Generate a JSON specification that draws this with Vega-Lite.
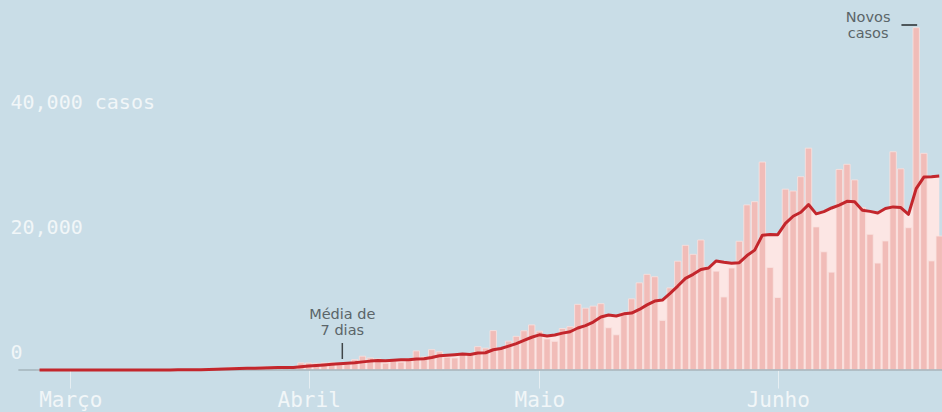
{
  "$schema": "https://vega.github.io/schema/vega-lite/v6.json",
  "width": 942,
  "height": 412,
  "autosize": "none",
  "padding": 0,
  "background": "#c9dde7",
  "config": {"view": {"stroke": null}},
  "datasets": {
    "casos": [
    {"d":"2020-02-26","c":1,"m":0.1},{"d":"2020-02-27","c":0,"m":0.1},{"d":"2020-02-28","c":0,"m":0.1},{"d":"2020-02-29","c":1,"m":0.3},
    {"d":"2020-03-01","c":0,"m":0.3},{"d":"2020-03-02","c":0,"m":0.3},{"d":"2020-03-03","c":0,"m":0.3},{"d":"2020-03-04","c":1,"m":0.3},
    {"d":"2020-03-05","c":5,"m":1},{"d":"2020-03-06","c":5,"m":1.7},{"d":"2020-03-07","c":6,"m":2.4},{"d":"2020-03-08","c":6,"m":3.3},
    {"d":"2020-03-09","c":0,"m":3.3},{"d":"2020-03-10","c":9,"m":4.6},{"d":"2020-03-11","c":18,"m":7},{"d":"2020-03-12","c":25,"m":9.9},
    {"d":"2020-03-13","c":21,"m":12.1},{"d":"2020-03-14","c":23,"m":14.6},{"d":"2020-03-15","c":79,"m":25},{"d":"2020-03-16","c":34,"m":29.9},
    {"d":"2020-03-17","c":57,"m":36.7},{"d":"2020-03-18","c":137,"m":53.7},{"d":"2020-03-19","c":193,"m":77.7},{"d":"2020-03-20","c":283,"m":115},
    {"d":"2020-03-21","c":224,"m":144},{"d":"2020-03-22","c":418,"m":192},{"d":"2020-03-23","c":345,"m":237},{"d":"2020-03-24","c":310,"m":273},
    {"d":"2020-03-25","c":232,"m":286},{"d":"2020-03-26","c":482,"m":328},{"d":"2020-03-27","c":502,"m":359},{"d":"2020-03-28","c":487,"m":397},
    {"d":"2020-03-29","c":352,"m":387},{"d":"2020-03-30","c":323,"m":384},{"d":"2020-03-31","c":1138,"m":502},
    {"d":"2020-04-01","c":1119,"m":629},{"d":"2020-04-02","c":1074,"m":714},{"d":"2020-04-03","c":1146,"m":806},{"d":"2020-04-04","c":1222,"m":911},
    {"d":"2020-04-05","c":852,"m":982},{"d":"2020-04-06","c":926,"m":1068},{"d":"2020-04-07","c":1661,"m":1143},{"d":"2020-04-08","c":2210,"m":1299},
    {"d":"2020-04-09","c":1930,"m":1421},{"d":"2020-04-10","c":1781,"m":1512},{"d":"2020-04-11","c":1089,"m":1493},{"d":"2020-04-12","c":1442,"m":1577},
    {"d":"2020-04-13","c":1261,"m":1625},{"d":"2020-04-14","c":1832,"m":1649},{"d":"2020-04-15","c":3058,"m":1770},{"d":"2020-04-16","c":2105,"m":1795},
    {"d":"2020-04-17","c":3257,"m":2006},{"d":"2020-04-18","c":2917,"m":2267},{"d":"2020-04-19","c":2055,"m":2355},{"d":"2020-04-20","c":1927,"m":2450},
    {"d":"2020-04-21","c":2498,"m":2545},{"d":"2020-04-22","c":2678,"m":2491},{"d":"2020-04-23","c":3735,"m":2724},{"d":"2020-04-24","c":3503,"m":2759},
    {"d":"2020-04-25","c":6300,"m":3243},{"d":"2020-04-26","c":3379,"m":3432},{"d":"2020-04-27","c":4613,"m":3816},{"d":"2020-04-28","c":5385,"m":4228},
    {"d":"2020-04-29","c":6276,"m":4742},{"d":"2020-04-30","c":7218,"m":5240},
    {"d":"2020-05-01","c":6209,"m":5626},{"d":"2020-05-02","c":4970,"m":5436},{"d":"2020-05-03","c":4588,"m":5608},{"d":"2020-05-04","c":6633,"m":5897},
    {"d":"2020-05-05","c":6935,"m":6118},{"d":"2020-05-06","c":10503,"m":6722},{"d":"2020-05-07","c":9888,"m":7104},{"d":"2020-05-08","c":10222,"m":7677},
    {"d":"2020-05-09","c":10611,"m":8483},{"d":"2020-05-10","c":6760,"m":8793},{"d":"2020-05-11","c":5632,"m":8650},{"d":"2020-05-12","c":9258,"m":8982},
    {"d":"2020-05-13","c":11385,"m":9108},{"d":"2020-05-14","c":13944,"m":9687},{"d":"2020-05-15","c":15305,"m":10414},{"d":"2020-05-16","c":14919,"m":11029},
    {"d":"2020-05-17","c":7938,"m":11197},{"d":"2020-05-18","c":13140,"m":12270},{"d":"2020-05-19","c":17408,"m":13434},{"d":"2020-05-20","c":19951,"m":14658},
    {"d":"2020-05-21","c":18508,"m":15310},{"d":"2020-05-22","c":20803,"m":16095},{"d":"2020-05-23","c":16508,"m":16322},{"d":"2020-05-24","c":15813,"m":17447},
    {"d":"2020-05-25","c":11687,"m":17240},{"d":"2020-05-26","c":16324,"m":17085},{"d":"2020-05-27","c":20599,"m":17177},{"d":"2020-05-28","c":26417,"m":18307},
    {"d":"2020-05-29","c":26928,"m":19182},{"d":"2020-05-30","c":33274,"m":21577},{"d":"2020-05-31","c":16409,"m":21663},
    {"d":"2020-06-01","c":11598,"m":21650},{"d":"2020-06-02","c":28936,"m":23452},{"d":"2020-06-03","c":28633,"m":24599},{"d":"2020-06-04","c":30925,"m":25243},
    {"d":"2020-06-05","c":35500,"m":26468},{"d":"2020-06-06","c":22900,"m":24986},{"d":"2020-06-07","c":18912,"m":25343},{"d":"2020-06-08","c":15654,"m":25923},
    {"d":"2020-06-09","c":32091,"m":26374},{"d":"2020-06-10","c":32913,"m":26985},{"d":"2020-06-11","c":30412,"m":26912},{"d":"2020-06-12","c":25982,"m":25552},
    {"d":"2020-06-13","c":21704,"m":25381},{"d":"2020-06-14","c":17110,"m":25124},{"d":"2020-06-15","c":20647,"m":25837},{"d":"2020-06-16","c":34918,"m":26098},
    {"d":"2020-06-17","c":32188,"m":25994},{"d":"2020-06-18","c":22765,"m":24902},{"d":"2020-06-19","c":54771,"m":29015},{"d":"2020-06-20","c":34666,"m":30866},
    {"d":"2020-06-21","c":17459,"m":30916},{"d":"2020-06-22","c":21432,"m":31028}
    ],
    "um": [{"k": 1}]
  },
  "data": {"name": "casos"},
  "layer": [
    {
      "mark": {"type": "area", "color": "#fce6e4", "clip": true},
      "encoding": {
        "x": {
          "field": "d", "type": "temporal",
          "scale": {"type": "utc", "domain": [1582287240000, 1592758800000]},
          "axis": {
            "orient": "bottom", "offset": -42,
            "values": [1583020800000, 1585699200000, 1588291200000, 1590969600000],
            "labelExpr": "['Jan','Fev','Março','Abril','Maio','Junho'][utcmonth(datum.value)]",
            "domain": false, "grid": false, "title": null,
            "tickColor": "#e6eef2", "tickSize": 18, "tickWidth": 1,
            "labelColor": "#f1f6f8", "labelFont": "DejaVu Sans Mono", "labelFontSize": 21,
            "labelPadding": 1, "labelBaseline": "top", "labelFlush": false, "labelOverlap": false
          }
        },
        "y": {
          "field": "m", "type": "quantitative",
          "scale": {"domain": [-6720, 59200], "nice": false, "zero": false},
          "axis": {
            "orient": "left", "values": [0, 20000, 40000],
            "labelExpr": "datum.value == 40000 ? '40,000 casos' : format(datum.value, ',')",
            "domain": false, "grid": false, "ticks": false, "tickSize": 0, "title": null,
            "labelAlign": "left", "labelPadding": -10, "labelOffset": -18, "labelBaseline": "middle",
            "labelColor": "#f1f6f8", "labelFont": "DejaVu Sans Mono", "labelFontSize": 20
          }
        },
        "y2": {"datum": 0}
      }
    },
    {
      "mark": {"type": "bar", "color": "#f1bcb8", "size": 6.4, "stroke": "#fae2e0", "strokeWidth": 0.8, "clip": true},
      "encoding": {
        "x": {"field": "d", "type": "temporal"},
        "y": {"field": "c", "type": "quantitative"},
        "y2": {"datum": 0}
      }
    },
    {
      "data": {"name": "um"},
      "mark": {"type": "rule", "color": "#a3b3bb", "strokeWidth": 1.5},
      "encoding": {
        "x": {"datum": 1582437600000, "type": "temporal"},
        "x2": {"datum": 1592870400000},
        "y": {"datum": 0, "type": "quantitative"}
      }
    },
    {
      "mark": {"type": "line", "color": "#c3262c", "strokeWidth": 3, "clip": true, "strokeJoin": "round"},
      "encoding": {
        "x": {"field": "d", "type": "temporal"},
        "y": {"field": "m", "type": "quantitative"}
      }
    },
    {
      "data": {"name": "um"},
      "mark": {"type": "text", "text": "Novos", "align": "center", "baseline": "middle", "font": "DejaVu Sans", "fontSize": 14.5, "color": "#5b6569"},
      "encoding": {
        "x": {"datum": 1591984800000, "type": "temporal"},
        "y": {"datum": 56400, "type": "quantitative"}
      }
    },
    {
      "data": {"name": "um"},
      "mark": {"type": "text", "text": "casos", "align": "center", "baseline": "middle", "font": "DejaVu Sans", "fontSize": 14.5, "color": "#5b6569"},
      "encoding": {
        "x": {"datum": 1591984800000, "type": "temporal"},
        "y": {"datum": 53800, "type": "quantitative"}
      }
    },
    {
      "data": {"name": "um"},
      "mark": {"type": "rule", "color": "#4e575b", "strokeWidth": 2},
      "encoding": {
        "x": {"datum": 1592359200000, "type": "temporal"},
        "x2": {"datum": 1592535600000},
        "y": {"datum": 55200, "type": "quantitative"}
      }
    },
    {
      "data": {"name": "um"},
      "mark": {"type": "text", "text": "Média de", "align": "center", "baseline": "middle", "font": "DejaVu Sans", "fontSize": 14.5, "color": "#5b6569"},
      "encoding": {
        "x": {"datum": 1586077200000, "type": "temporal"},
        "y": {"datum": 8800, "type": "quantitative"}
      }
    },
    {
      "data": {"name": "um"},
      "mark": {"type": "text", "text": "7 dias", "align": "center", "baseline": "middle", "font": "DejaVu Sans", "fontSize": 14.5, "color": "#5b6569"},
      "encoding": {
        "x": {"datum": 1586077200000, "type": "temporal"},
        "y": {"datum": 6300, "type": "quantitative"}
      }
    },
    {
      "data": {"name": "um"},
      "mark": {"type": "rule", "color": "#3f4548", "strokeWidth": 1.5},
      "encoding": {
        "x": {"datum": 1586077200000, "type": "temporal"},
        "y": {"datum": 4320, "type": "quantitative"},
        "y2": {"datum": 1760}
      }
    }
  ]
}
